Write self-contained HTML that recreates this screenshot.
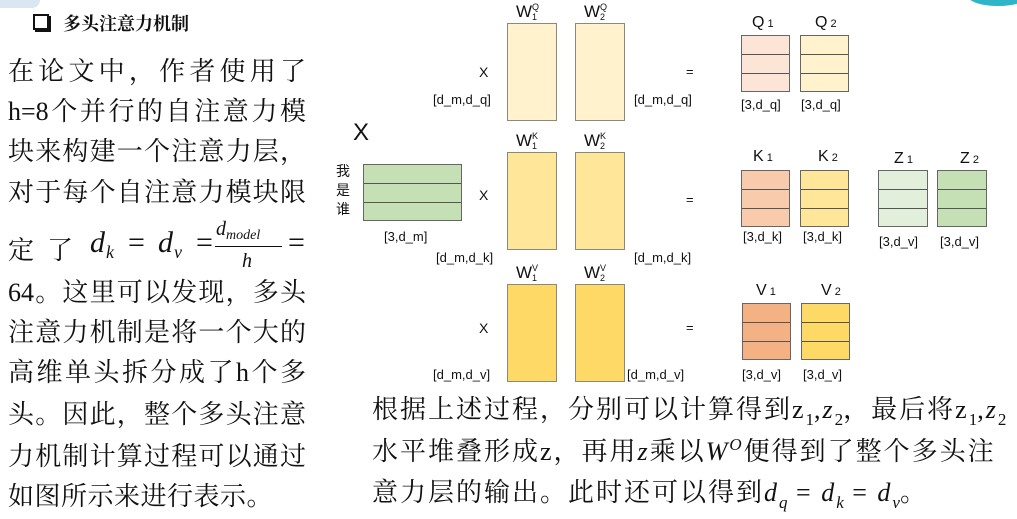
<!DOCTYPE html>
<html><head><meta charset="utf-8"><style>
body{margin:0;width:1017px;height:519px;background:#fff;position:relative;overflow:hidden;font-family:"Liberation Sans","Noto Sans CJK SC",sans-serif;color:#111}
.a{position:absolute;white-space:nowrap}
.ln{position:absolute;left:8px;width:298px;font-family:"Liberation Serif","Noto Serif CJK SC",serif;font-size:26px;text-align:justify;text-align-last:justify;line-height:30px;height:30px}
.bt{position:absolute;left:372px;font-family:"Liberation Serif","Noto Serif CJK SC",serif;font-size:26px;line-height:30px;height:30px;white-space:nowrap;letter-spacing:2px}
.bt .s{font-size:17px;position:relative;top:7px;letter-spacing:0}
.bt .p{font-size:17px;position:relative;top:-10px}
.w{position:absolute;border:1.5px solid #8a8a7a;box-sizing:border-box}
.m{position:absolute;border:1.5px solid #666;box-sizing:border-box}
.m i{position:absolute;left:0;right:0;height:0;border-top:1.5px solid #555}
.lb{position:absolute;font-size:13px;white-space:nowrap}
.wl{position:absolute;font-size:17px;white-space:nowrap;height:22px}
.wl b{font-weight:normal;position:absolute;left:16px;font-size:9px;line-height:9px}
.it{font-style:italic}
</style></head><body>
<div class="a" style="left:0;top:0;width:40px;height:8px;border-radius:0 0 40px 0;background:#dbe6f3"></div>
<div class="a" style="left:968px;top:-14px;width:60px;height:20px;border-radius:50%;background:#2fb5c8"></div>

<div class="a" style="left:33px;top:14px;width:12px;height:12px;border:2px solid #111;box-shadow:2px 2px 0 #111"></div>
<div class="a" style="left:63px;top:10px;font-size:18px;font-weight:bold;font-family:'Liberation Serif','Noto Serif CJK SC',serif">多头注意力机制</div>

<div class="ln" style="top:57px">在论文中，作者使用了</div>
<div class="ln" style="top:97px">h=8个并行的自注意力模</div>
<div class="ln" style="top:137px">块来构建一个注意力层，</div>
<div class="ln" style="top:178px">对于每个自注意力模块限</div>
<div class="a" style="left:8px;top:230px;font-family:'Liberation Serif','Noto Serif CJK SC',serif;font-size:26px">定&nbsp;&nbsp;了</div>
<div class="a it" style="left:90px;top:226px;font-family:'Liberation Serif',serif;font-size:30px">d</div>
<div class="a it" style="left:106px;top:242px;font-family:'Liberation Serif',serif;font-size:18px">k</div>
<div class="a" style="left:128px;top:226px;font-family:'Liberation Serif',serif;font-size:30px">=</div>
<div class="a it" style="left:158px;top:226px;font-family:'Liberation Serif',serif;font-size:30px">d</div>
<div class="a it" style="left:174px;top:242px;font-family:'Liberation Serif',serif;font-size:18px">v</div>
<div class="a" style="left:196px;top:226px;font-family:'Liberation Serif',serif;font-size:30px">=</div>
<div class="a it" style="left:216px;top:218px;font-family:'Liberation Serif',serif;font-size:20px">d<span style="font-size:14px;position:relative;top:4px">model</span></div>
<div class="a" style="left:215px;top:246px;width:67px;height:0;border-top:1.5px solid #111"></div>
<div class="a it" style="left:242px;top:250px;font-family:'Liberation Serif',serif;font-size:20px">h</div>
<div class="a" style="left:288px;top:226px;font-family:'Liberation Serif',serif;font-size:30px">=</div>
<div class="ln" style="top:278px">64。这里可以发现，多头</div>
<div class="ln" style="top:318px">注意力机制是将一个大的</div>
<div class="ln" style="top:358px">高维单头拆分成了h个多</div>
<div class="ln" style="top:400px">头。因此，整个多头注意</div>
<div class="ln" style="top:442px">力机制计算过程可以通过</div>
<div class="a" style="left:8px;top:482px;font-family:'Liberation Serif','Noto Serif CJK SC',serif;font-size:26px;letter-spacing:0.5px;line-height:30px">如图所示来进行表示。</div>

<div class="a" style="left:353px;top:119px;font-size:24px">X</div>
<div class="a" style="left:336px;top:162px;font-size:14px;line-height:19px;white-space:normal;width:16px">我是谁</div>
<div class="m" style="left:363px;top:164px;width:99px;height:57px;background:#c5e0b4"><i style="top:18px"></i><i style="top:37px"></i></div>
<div class="lb" style="left:384px;top:229px">[3,d_m]</div>

<div class="wl" style="left:516px;top:2px">W<b style="top:1px">Q</b><b style="top:11px">1</b></div>
<div class="wl" style="left:584px;top:2px">W<b style="top:1px">Q</b><b style="top:11px">2</b></div>
<div class="w" style="left:507px;top:23px;width:50px;height:98px;background:#fff2cc"></div>
<div class="w" style="left:575px;top:23px;width:50px;height:98px;background:#fff2cc"></div>
<div class="lb" style="left:479px;top:64px;font-size:14px">X</div>
<div class="lb" style="left:433px;top:92px">[d_m,d_q]</div>
<div class="lb" style="left:686px;top:64px">=</div>
<div class="lb" style="left:634px;top:92px">[d_m,d_q]</div>

<div class="wl" style="left:516px;top:131px">W<b style="top:1px">K</b><b style="top:11px">1</b></div>
<div class="wl" style="left:584px;top:131px">W<b style="top:1px">K</b><b style="top:11px">2</b></div>
<div class="w" style="left:507px;top:152px;width:50px;height:98px;background:#ffe699"></div>
<div class="w" style="left:575px;top:152px;width:50px;height:98px;background:#ffe699"></div>
<div class="lb" style="left:479px;top:187px;font-size:14px">X</div>
<div class="lb" style="left:436px;top:250px">[d_m,d_k]</div>
<div class="lb" style="left:686px;top:192px">=</div>
<div class="lb" style="left:634px;top:250px">[d_m,d_k]</div>

<div class="wl" style="left:516px;top:263px">W<b style="top:1px">V</b><b style="top:11px">1</b></div>
<div class="wl" style="left:584px;top:263px">W<b style="top:1px">V</b><b style="top:11px">2</b></div>
<div class="w" style="left:507px;top:284px;width:50px;height:98px;background:#ffd966"></div>
<div class="w" style="left:575px;top:284px;width:50px;height:98px;background:#ffd966"></div>
<div class="lb" style="left:479px;top:320px;font-size:14px">X</div>
<div class="lb" style="left:433px;top:367px">[d_m,d_v]</div>
<div class="lb" style="left:686px;top:320px">=</div>
<div class="lb" style="left:627px;top:367px">[d_m,d_v]</div>

<div class="wl" style="left:752px;top:14px;font-size:16px">Q<span style="font-size:11px"> 1</span></div>
<div class="wl" style="left:815px;top:14px;font-size:16px">Q<span style="font-size:11px"> 2</span></div>
<div class="m" style="left:741px;top:35px;width:49px;height:57px;background:#fce4d6"><i style="top:18px"></i><i style="top:37px"></i></div>
<div class="m" style="left:800px;top:35px;width:49px;height:57px;background:#fff2cc"><i style="top:18px"></i><i style="top:37px"></i></div>
<div class="lb" style="left:741px;top:97px">[3,d_q]</div>
<div class="lb" style="left:801px;top:97px">[3,d_q]</div>

<div class="wl" style="left:753px;top:148px;font-size:16px">K<span style="font-size:11px"> 1</span></div>
<div class="wl" style="left:818px;top:148px;font-size:16px">K<span style="font-size:11px"> 2</span></div>
<div class="m" style="left:741px;top:170px;width:49px;height:57px;background:#f8cbad"><i style="top:18px"></i><i style="top:37px"></i></div>
<div class="m" style="left:800px;top:170px;width:49px;height:57px;background:#ffe699"><i style="top:18px"></i><i style="top:37px"></i></div>
<div class="lb" style="left:743px;top:229px">[3,d_k]</div>
<div class="lb" style="left:803px;top:229px">[3,d_k]</div>

<div class="wl" style="left:894px;top:150px;font-size:16px">Z<span style="font-size:11px"> 1</span></div>
<div class="wl" style="left:960px;top:150px;font-size:16px">Z<span style="font-size:11px"> 2</span></div>
<div class="m" style="left:878px;top:170px;width:50px;height:57px;background:#e2efda"><i style="top:18px"></i><i style="top:37px"></i></div>
<div class="m" style="left:937px;top:170px;width:50px;height:57px;background:#c5e0b4"><i style="top:18px"></i><i style="top:37px"></i></div>
<div class="lb" style="left:879px;top:234px">[3,d_v]</div>
<div class="lb" style="left:940px;top:234px">[3,d_v]</div>

<div class="wl" style="left:756px;top:282px;font-size:16px">V<span style="font-size:11px"> 1</span></div>
<div class="wl" style="left:821px;top:282px;font-size:16px">V<span style="font-size:11px"> 2</span></div>
<div class="m" style="left:742px;top:303px;width:49px;height:57px;background:#f4b183"><i style="top:18px"></i><i style="top:37px"></i></div>
<div class="m" style="left:801px;top:303px;width:49px;height:57px;background:#ffd966"><i style="top:18px"></i><i style="top:37px"></i></div>
<div class="lb" style="left:742px;top:367px">[3,d_v]</div>
<div class="lb" style="left:803px;top:367px">[3,d_v]</div>

<div class="bt" style="top:395px">根据上述过程，分别可以计算得到z<span class="s">1</span>,<span class="it">z</span><span class="s">2</span>，最后将z<span class="s">1</span>,<span class="it">z</span><span class="s">2</span></div>
<div class="bt" style="top:437px">水平堆叠形成z，再用<span class="it">z</span>乘以<span class="it">W<span class="p">O</span></span>便得到了整个多头注</div>
<div class="bt" style="top:478px">意力层的输出。此时还可以得到<span class="it">d<span class="s">q</span></span> = <span class="it">d<span class="s">k</span></span> = <span class="it">d<span class="s">v</span></span>。</div>
</body></html>
